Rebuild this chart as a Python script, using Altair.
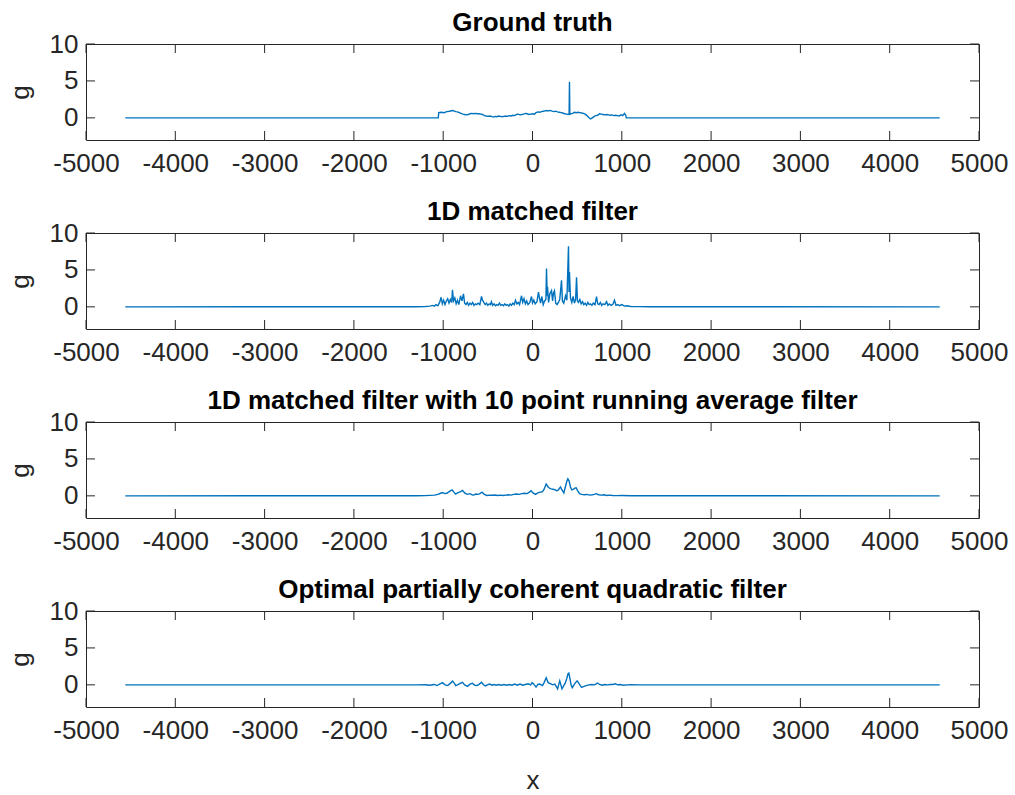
import altair as alt
import pandas as pd

# ---------------- data ----------------
titles = [
    "Ground truth",
    "1D matched filter",
    "1D matched filter with 10 point running average filter",
    "Optimal partially coherent quadratic filter",
]

x_ticks = [-5000, -4000, -3000, -2000, -1000, 0, 1000, 2000, 3000, 4000, 5000]
y_ticks = [0, 5, 10]

# Ground truth
x1 = [-4560, -1055, -1050, -1020, -990, -960, -930, -900, -880, -860, -840, -820, -800, -780,
      -760, -740, -720, -700, -680, -660, -640, -620, -600, -580, -560, -540, -520, -500, -480,
      -460, -440, -420, -400, -380, -360, -340, -320, -300, -280, -260, -240, -220, -200, -180,
      -160, -140, -120, -100, -80, -60, -40, -20, 0, 20, 40, 60, 80, 100, 120, 140, 160, 180,
      200, 220, 240, 260, 280, 300, 320, 340, 360, 380, 400, 410, 414, 418, 430, 450, 470, 490,
      510, 530, 550, 570, 590, 610, 630, 650, 670, 690, 710, 730, 750, 770, 790, 810, 830, 850,
      870, 890, 910, 930, 950, 970, 990, 1010, 1030, 1045, 1050, 4560]
g1 = [0, 0, 0.7, 0.75, 0.7, 0.85, 0.9, 1.0, 0.95, 0.85, 0.8, 0.7, 0.6, 0.5,
      0.45, 0.4, 0.45, 0.55, 0.6, 0.55, 0.6, 0.55, 0.55, 0.5, 0.45, 0.3, 0.25, 0.2, 0.25,
      0.2, 0.1, 0.2, 0.15, 0.25, 0.2, 0.15, 0.2, 0.25, 0.2, 0.3, 0.25, 0.35, 0.3, 0.45,
      0.5, 0.4, 0.45, 0.5, 0.6, 0.55, 0.45, 0.5, 0.55, 0.5, 0.7, 0.8, 0.75, 0.85, 0.9, 0.95, 1.0, 0.95,
      1.0, 0.9, 0.85, 0.9, 0.8, 0.75, 0.7, 0.65, 0.55, 0.5, 0.45, 0.5, 4.9, 0.5, 0.55, 0.6, 0.75, 0.7,
      0.75, 0.7, 0.65, 0.6, 0.5, 0.3, 0.05, -0.15, 0.0, 0.2, 0.3, 0.35, 0.55, 0.5, 0.45, 0.4, 0.45, 0.4,
      0.35, 0.4, 0.3, 0.35, 0.3, 0.25, 0.4, 0.3, 0.6, 0.3, 0, 0]

# 1D matched filter
x2 = [-4560, -1300, -1200, -1150, -1120, -1100, -1080, -1060, -1040, -1023, -1010, -995, -980,
      -965, -950, -935, -920, -905, -896, -885, -870, -855, -840, -825, -806, -790, -773, -760,
      -745, -730, -715, -700, -685, -670, -655, -640, -625, -610, -590, -571, -560, -545, -530,
      -515, -500, -485, -470, -460, -445, -430, -415, -400, -385, -370, -355, -340, -325, -310,
      -295, -280, -265, -250, -235, -220, -205, -190, -175, -160, -145, -123, -110, -95, -80,
      -65, -50, -30, -11, 0, 15, 30, 50, 67, 78, 90, 105, 120, 135, 150, 157, 164, 168, 180, 195,
      213, 225, 235, 246, 260, 275, 290, 305, 325, 335, 350, 370, 385, 403, 409, 414, 425, 440,
      455, 470, 483, 493, 503, 515, 530, 545, 560, 575, 590, 605, 620, 635, 650, 665, 680, 700,
      717, 730, 745, 760, 775, 790, 810, 829, 845, 860, 880, 900, 918, 935, 955, 975, 1000, 1030,
      1060, 1100, 1200, 1300, 4560]
g2 = [0, 0.02, 0.05, 0.1, 0.2, 0.1, 0.3, 0.15, 0.6, 1.3, 0.4, 0.9, 0.3,
      0.8, 1.1, 0.5, 1.0, 0.6, 2.3, 0.8, 1.2, 0.4, 0.9, 0.3, 1.5, 0.8, 1.75, 0.5,
      0.3, 0.6, 0.2, 0.5, 0.3, 0.6, 0.2, 0.4, 0.3, 0.5, 0.3, 1.4, 0.9, 0.6, 0.3,
      0.5, 0.2, 0.4, 0.3, 0.7, 0.2, 0.4, 0.15, 0.3, 0.2, 0.5, 0.2, 0.3, 0.15, 0.4,
      0.2, 0.3, 0.1, 0.4, 0.2, 0.5, 0.3, 0.9, 0.4, 0.6, 0.3, 1.5, 0.6, 1.1, 0.4,
      0.8, 0.3, 0.6, 1.4, 0.5, 0.9, 0.4, 0.7, 2.0, 1.2, 0.5, 1.4, 0.3, 0.8, 1.0, 5.2, 1.5, 2.7, 0.6, 1.8,
      2.2, 0.8, 1.9, 2.2, 0.5, 0.3, 0.6, 1.0, 3.6, 0.8, 0.5, 1.5, 0.9, 8.2, 2.0, 4.7, 1.2, 0.6,
      1.4, 0.5, 1.0, 4.0, 0.8, 0.6, 1.0, 0.4, 0.7, 0.3, 0.5, 0.2, 0.6, 0.3, 0.4, 0.2, 0.5, 0.3,
      1.4, 0.4, 0.3, 0.6, 0.2, 0.4, 0.3, 0.7, 0.2, 0.4, 0.2, 0.35, 0.9, 0.2, 0.3, 0.15, 0.3, 0.1,
      0.15, 0.05, 0.03, 0.01, 0]

# 1D matched filter with running average
x3 = [-4560, -1300, -1200, -1100, -1060, -1030, -1008, -985, -960, -930, -900, -880, -862, -840,
      -810, -784, -760, -730, -700, -672, -650, -634, -610, -590, -564, -540, -510, -480, -450,
      -420, -390, -360, -330, -300, -270, -240, -210, -180, -150, -120, -90, -60, -35, -15, 5, 34,
      60, 85, 110, 130, 153, 175, 195, 209, 230, 250, 270, 284, 300, 314, 330, 351, 370, 385, 396,
      410, 425, 440, 460, 475, 489, 505, 527, 550, 580, 610, 640, 670, 690, 713, 740, 770, 800,
      830, 860, 900, 950, 1000, 1100, 1200, 4560]
g3 = [0, 0.01, 0.03, 0.1, 0.2, 0.35, 0.45, 0.3, 0.35, 0.6, 0.8, 0.5, 0.25, 0.4,
      0.55, 0.75, 0.4, 0.2, 0.3, 0.1, 0.15, 0.25, 0.2, 0.3, 0.5, 0.2, 0.05, 0.1, 0.08,
      0.12, 0.05, 0.1, 0.05, 0.1, 0.15, 0.1, 0.2, 0.25, 0.2, 0.3, 0.35, 0.3, 0.5, 0.7, 0.4, 0.2,
      0.4, 0.5, 0.55, 0.9, 1.6, 1.2, 1.0, 0.95, 0.9, 0.85, 0.7, 0.75, 1.0, 1.2, 0.8, 0.4, 1.3, 2.0, 2.3,
      2.0, 1.2, 0.8, 0.9, 1.05, 1.1, 0.7, 0.3, 0.2, 0.15, 0.2, 0.1, 0.15, 0.2, 0.3, 0.15, 0.1, 0.15,
      0.05, 0.1, 0.05, 0.03, 0.05, 0.02, 0.01, 0]

# Optimal partially coherent quadratic filter
x4 = [-4560, -1300, -1200, -1150, -1100, -1070, -1040, -1008, -980, -950, -920, -896, -875, -860,
      -840, -810, -784, -760, -728, -700, -672, -645, -620, -595, -571, -550, -530, -505, -480,
      -455, -430, -405, -380, -350, -320, -290, -260, -230, -200, -170, -140, -110, -80, -50, -20,
      -4, 15, 40, 60, 80, 112, 130, 153, 175, 200, 225, 250, 265, 281, 293, 305, 318, 330, 345, 365,
      385, 397, 407, 420, 432, 445, 460, 475, 500, 520, 535, 550, 570, 600, 630, 660, 690, 710, 728,
      750, 780, 810, 840, 870, 900, 929, 950, 980, 1020, 1060, 1100, 1200, 4560]
g4 = [0, 0.0, 0.02, -0.05, 0.05, -0.1, 0.1, 0.3, 0.0, -0.1, 0.2, 0.5, 0.2, -0.1,
      0.0, 0.2, 0.35, 0.0, -0.2, 0.1, 0.2, -0.05, -0.1, 0.1, 0.35, 0.05, -0.15, 0.0, 0.1,
      -0.05, 0.05, -0.05, 0.05, -0.05, 0.05, -0.05, 0.05, -0.05, 0.1, -0.05, 0.1, -0.05, 0.05, 0.15, 0.0,
      0.3, 0.1, -0.3, 0.05, 0.1, -0.1, 0.3, 0.95, 0.3, 0.15, 0.0, 0.1, -0.2, -0.55, 0.0, 0.55, 0.0, -0.55, -0.2, 0.2,
      0.9, 1.5, 1.6, 0.8, 0.0, -0.4, -0.1, 0.2, 0.55, 0.2, -0.1, -0.35, -0.25, -0.1, 0.0, 0.05, 0.0, 0.1, 0.25,
      0.05, -0.05, 0.05, 0.0, 0.05, 0.05, 0.15, 0.0, 0.05, -0.05, 0.0, 0.02, 0, 0]

series = [(x1, g1), (x2, g2), (x3, g3), (x4, g4)]

# ---------------- styling ----------------
W, H = 893, 96
TICK = 9
AX = "#262626"
LINE = "#0072BD"
FONT = "Liberation Sans"
FS = 26

xscale = alt.Scale(domain=[-5000, 5000], nice=False, zero=False)
yscale = alt.Scale(domain=[-3, 10], nice=False, zero=False)

xt = pd.DataFrame({"t": x_ticks})
yt = pd.DataFrame({"t": y_ticks})


def panel(title, xs, ys, last):
    df = pd.DataFrame({"x": xs, "g": ys})
    xaxis = alt.Axis(values=x_ticks, labelExpr="'' + datum.value", ticks=False, domain=False,
                     grid=False, labelFontSize=FS, labelFont=FONT, labelColor=AX,
                     labelPadding=10, labelFlush=False, labelOverlap=False,
                     title="x" if last else None, titleFontSize=FS,
                     titleFont=FONT, titleFontWeight="normal", titleColor=AX, titlePadding=24)
    yaxis = alt.Axis(values=y_ticks, ticks=False, domain=False, grid=False, labelFontSize=FS,
                     labelFont=FONT, labelColor=AX, labelPadding=8, labelFlush=False,
                     labelOverlap=False, title="g", titleFontSize=FS,
                     titleFont=FONT, titleFontWeight="normal", titleColor=AX, titlePadding=16)
    line = alt.Chart(df).mark_line(color=LINE, strokeWidth=1.4).encode(
        x=alt.X("x:Q", scale=xscale, axis=xaxis),
        y=alt.Y("g:Q", scale=yscale, axis=yaxis),
    )
    tb = alt.Chart(xt).mark_rule(color=AX, strokeWidth=1).encode(
        x=alt.X("t:Q", scale=xscale), y=alt.value(H - TICK), y2=alt.value(H))
    tt = alt.Chart(xt).mark_rule(color=AX, strokeWidth=1).encode(
        x=alt.X("t:Q", scale=xscale), y=alt.value(0), y2=alt.value(TICK))
    tl = alt.Chart(yt).mark_rule(color=AX, strokeWidth=1).encode(
        y=alt.Y("t:Q", scale=yscale), x=alt.value(0), x2=alt.value(TICK))
    tr = alt.Chart(yt).mark_rule(color=AX, strokeWidth=1).encode(
        y=alt.Y("t:Q", scale=yscale), x=alt.value(W - TICK), x2=alt.value(W))
    return alt.layer(line, tb, tt, tl, tr).properties(
        width=W, height=H,
        title=alt.TitleParams(title, fontSize=FS, fontWeight="bold", font=FONT, color="#000000",
                              offset=-5, anchor="middle"),
    )


panels = [panel(t, xs, ys, i == 3) for i, (t, (xs, ys)) in enumerate(zip(titles, series))]

chart = alt.vconcat(*panels, spacing=21).properties(
    padding={"left": 6, "top": 9, "right": 5, "bottom": 5},
    background="white",
).configure_view(stroke=AX, strokeWidth=1).configure_concat(spacing=21)

chart.save("out.html", embed_options={"renderer": "svg", "actions": False})
